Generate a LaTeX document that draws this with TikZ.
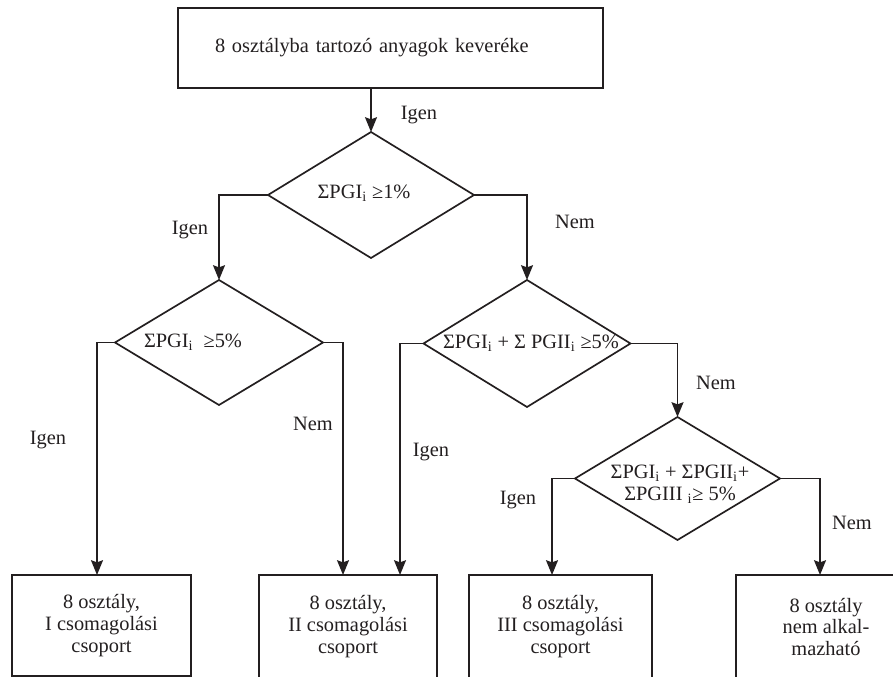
\documentclass[tikz,border=0pt]{standalone}
\usepackage{fontspec}
\setmainfont{Liberation Serif}
\usepackage{tikz}
\usetikzlibrary{arrows.meta,shapes.geometric}
\definecolor{ink}{HTML}{231F20}

\begin{document}
\begin{tikzpicture}[
font=\fontsize{14.5}{15.6}\selectfont,
color=ink,
box/.style={draw,line width=1.2pt,rectangle,inner sep=0pt,outer sep=0pt,align=center},
decision/.style={draw,line width=1.2pt,diamond,inner sep=0pt,outer sep=0pt},
flow/.style={line width=1.2pt,-{Stealth[length=10.5pt,width=8.5pt,inset=1.5pt]}},
answer/.style={inner sep=0pt}
]
    % Page size
    \clip (0,0) rectangle (22.325,-16.925);

    % Start box
    \node[box, minimum width=10.625cm, minimum height=2cm, text width=8.775cm,
          align=left, inner xsep=0.925cm] (start) at (9.7625,-1.2)
          {8 osztályba tartozó anyagok keveréke};

    % Decisions
    \node[decision, minimum width=5.15cm, minimum height=3.15cm] (dec1) at (9.275,-4.875) {};
    \node[decision, minimum width=5.2cm, minimum height=3.125cm] (dec2) at (5.475,-8.5625) {};
    \node[decision, minimum width=5.175cm, minimum height=3.175cm] (dec3) at (13.175,-8.5875) {};
    \node[decision, minimum width=5.125cm, minimum height=3.075cm] (dec4) at (16.9375,-11.9625) {};

    \node (cond1) at (9.1,-4.825) {ΣPGI\textsubscript{i} ≥1\%};
    \node (cond2) at (4.825,-8.55) {ΣPGI\textsubscript{i}\ \ ≥5\%};
    \node (cond3) at (13.275,-8.575) {ΣPGI\textsubscript{i} + Σ PGII\textsubscript{i} ≥5\%};
    \node[align=center] (cond4) at (17.0,-12.1)
          {ΣPGI\textsubscript{i} + ΣPGII\textsubscript{i}+\\ΣPGIII \textsubscript{i}≥ 5\%};

    % Packing groups
    \node[box, minimum width=4.475cm, minimum height=2.525cm, anchor=north] (grp1) at (2.5375,-14.375)
          {8 osztály,\\I csomagolási\\csoport};
    \node[box, minimum width=4.45cm, minimum height=2.6cm, anchor=north] (grp2) at (8.7,-14.375)
          {8 osztály,\\II csomagolási\\csoport};
    \node[box, minimum width=4.575cm, minimum height=2.6cm, anchor=north] (grp3) at (14.0125,-14.375)
          {8 osztály,\\III csomagolási\\csoport};
    \node[box, minimum width=4.5cm, minimum height=2.6cm, anchor=north] (grp4) at (20.65,-14.375)
          {8 osztály\\nem alkal-\\mazható};

    % Connectors
    \draw[flow] (dec1 |- start.south) -- (dec1.north);
    \draw[flow] (dec1.west) -| (dec2.north);
    \draw[flow] (dec1.east) -| (dec3.north);
    \draw[flow] (dec2.west) -| ([xshift=-0.1125cm]grp1.north);
    \draw[flow] (dec2.east) -| ([xshift=-0.125cm]grp2.north);
    \draw[flow] (dec3.west) -| ([xshift=1.3cm]grp2.north);
    \draw[flow] (dec3.east) -| (dec4.north);
    \draw[flow] (dec4.west) -| ([xshift=-0.2125cm]grp3.north);
    \draw[flow] (dec4.east) -| ([xshift=-0.15cm]grp4.north);

    % Answers
    \node[answer] (yes0) at (10.475,-2.875) {Igen};
    \node[answer] (yes1) at (4.75,-5.75) {Igen};
    \node[answer] (no1) at (14.375,-5.55) {Nem};
    \node[answer] (yes2) at (1.2,-11.0) {Igen};
    \node[answer] (no2) at (7.825,-10.6) {Nem};
    \node[answer] (yes3) at (10.775,-11.3) {Igen};
    \node[answer] (no3) at (17.9,-9.575) {Nem};
    \node[answer] (yes4) at (12.95,-12.5) {Igen};
    \node[answer] (no4) at (21.3,-13.075) {Nem};

\end{tikzpicture}
\end{document}
